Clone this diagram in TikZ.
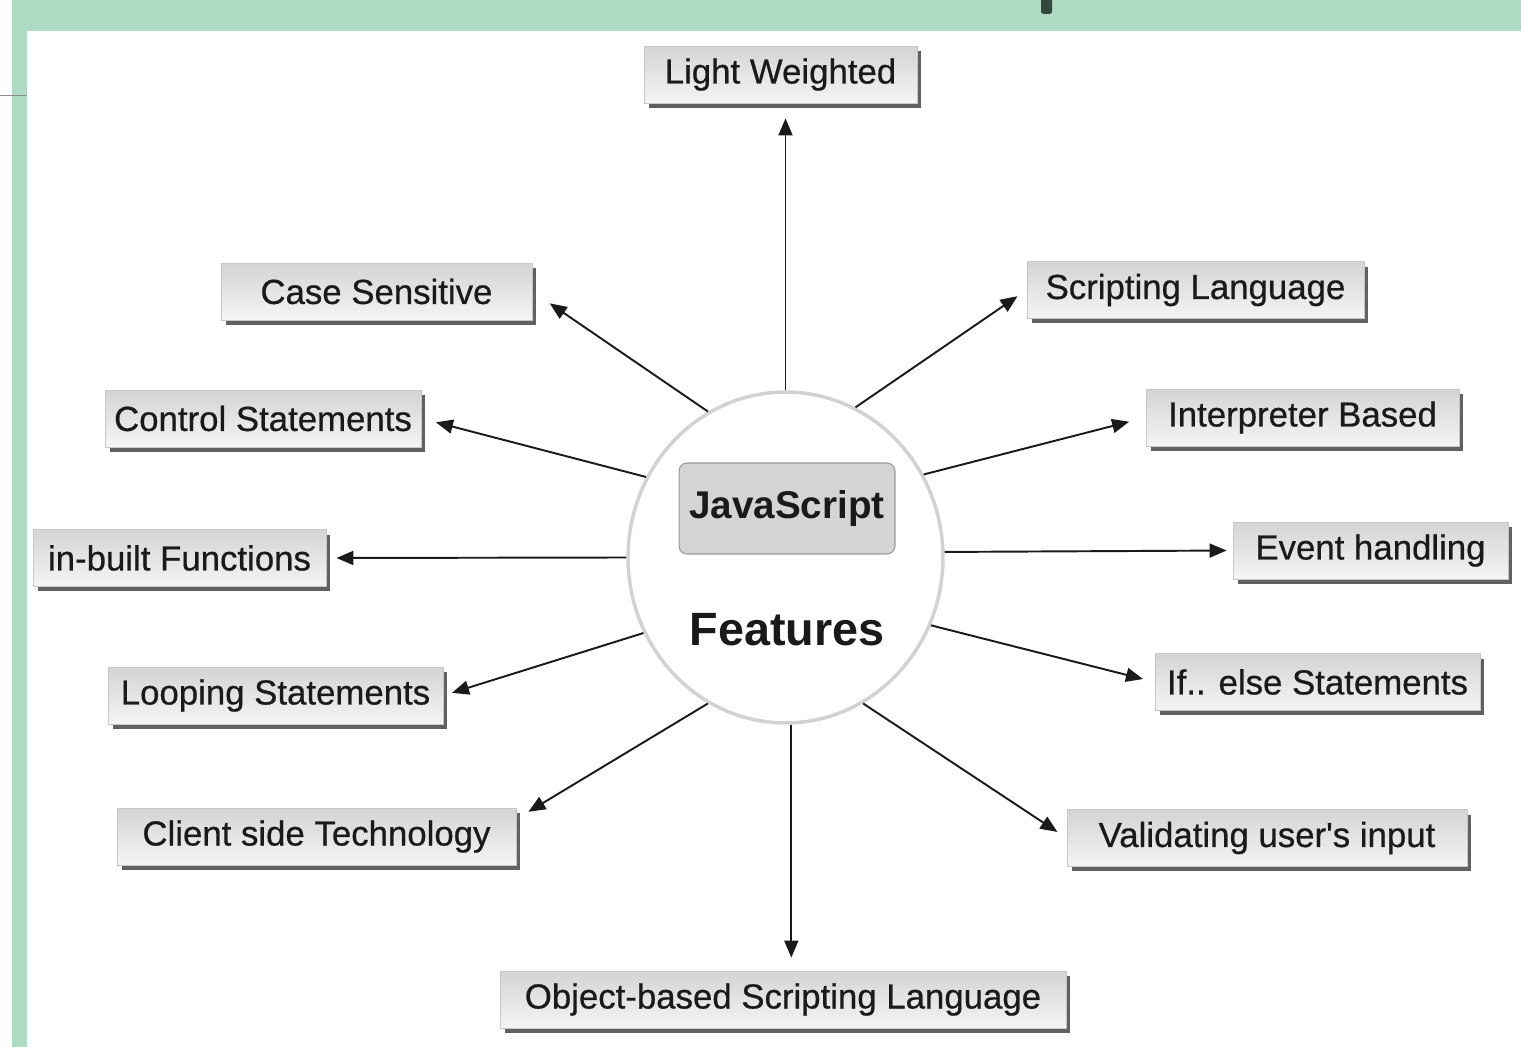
\documentclass[tikz,border=0pt]{standalone}
\usepackage{fontspec}
\setmainfont{Liberation Sans}[Ligatures=TeXOff]
\newfontfamily\boxfamily{Liberation Sans}[Ligatures=TeXOff, FakeBold=0.6]
\usetikzlibrary{arrows.meta,shapes.geometric,shadows}
\definecolor{bandgreen}{HTML}{AFDBC5}
\definecolor{tabdark}{HTML}{34473E}
\definecolor{rim}{HTML}{D2D2D2}
\definecolor{ink}{HTML}{1A1A1A}
\tikzset{
  featbox/.style={draw=black!22, line width=0.5pt, top color=black!17, bottom color=black!4,
    minimum height=1.14cm, inner sep=0pt, text=ink, font=\boxfamily\fontsize{19.8}{23}\selectfont,
    drop shadow={shadow xshift=0.09cm, shadow yshift=-0.1cm, fill=black!62, opacity=1}},
  hubring/.style={ellipse, draw=rim, line width=2pt, fill=white,
    minimum width=6.3cm, minimum height=6.62cm},
  titlebox/.style={draw=black!40, line width=0.6pt, fill=black!17, rounded corners=0.16cm,
    minimum width=4.32cm, minimum height=1.82cm, text=ink, font=\fontsize{22}{26}\selectfont\bfseries},
  arr/.style={-{Triangle[length=0.34cm,width=0.28cm]}, line width=1.1pt, draw=ink}
}
\begin{document}
\begin{tikzpicture}[x=0.02cm, y=-0.02cm]
  \useasboundingbox (0,0) rectangle (1521,1047);
  \fill[bandgreen] (12,0) rectangle (1521,31);
  \fill[bandgreen] (12,0) rectangle (27,1047);
  \draw[black!45, line width=0.6pt] (0,95.5) -- (27,95.5);
  \fill[tabdark, rounded corners=0.05cm] (1041,-6) rectangle (1052,14);

  \node[hubring] (hub) at (785.5,557.5) {};
  \node[titlebox] (jsbox) at (787,508.5) {JavaScript};
  \node[text=ink, font=\fontsize{26.6}{30}\selectfont\bfseries] (feat) at (787,630) {Features};

  \node[featbox, minimum width=5.46cm] (lightw) at (780.5,74.5) {Light Weighted};
  \node[featbox, minimum width=6.22cm] (casesens) at (376.5,291.5) {Case Sensitive};
  \node[featbox, minimum width=6.74cm] (scriptl) at (1195.5,290) {Scripting Language};
  \node[featbox, minimum width=6.32cm] (ctrlst) at (263,418.5) {Control Statements};
  \node[featbox, minimum width=6.26cm] (interp) at (1302.5,417.5) {Interpreter Based};
  \node[featbox, minimum width=5.86cm] (inbuilt) at (179.5,558) {in-built Functions};
  \node[featbox, minimum width=5.5cm] (evthand) at (1370.5,550.5) {Event handling};
  \node[featbox, minimum width=6.7cm] (loopst) at (275.5,695.5) {Looping Statements};
  \node[featbox, minimum width=6.5cm] (ifelse) at (1317.5,682) {If.. else Statements};
  \node[featbox, minimum width=7.98cm] (clients) at (316.5,836.5) {Client side Technology};
  \node[featbox, minimum width=8cm] (validin) at (1267,838) {Validating user's input};
  \node[featbox, minimum width=11.32cm] (objbased) at (783,999.5) {Object-based Scripting Language};

  \draw[arr, shorten >=0.3cm] (hub.north) -- (hub.north |- lightw.south);
  \draw[arr, shorten >=0.42cm] (hub.118) -- (casesens.east);
  \draw[arr, shorten >=0.22cm] (hub.65) -- (scriptl.west);
  \draw[arr, shorten >=0.3cm] (hub.150) -- (ctrlst.east);
  \draw[arr, shorten >=0.34cm] (hub.31) -- (interp.west);
  \draw[arr, shorten >=0.2cm] (hub.west) -- (inbuilt.east);
  \draw[arr, shorten >=0.12cm] (hub.2) -- (evthand.west);
  \draw[arr, shorten >=0.18cm] (hub.208) -- (loopst.east);
  \draw[arr, shorten >=0.24cm] (hub.335) -- (ifelse.west);
  \draw[arr, shorten >=0.28cm] (hub.242) -- (clients.5);
  \draw[arr, shorten >=0.22cm] (hub.298) -- (validin.west);
  \draw[arr, shorten >=0.26cm] (hub.272) -- (hub.272 |- objbased.north);
\end{tikzpicture}
\end{document}
